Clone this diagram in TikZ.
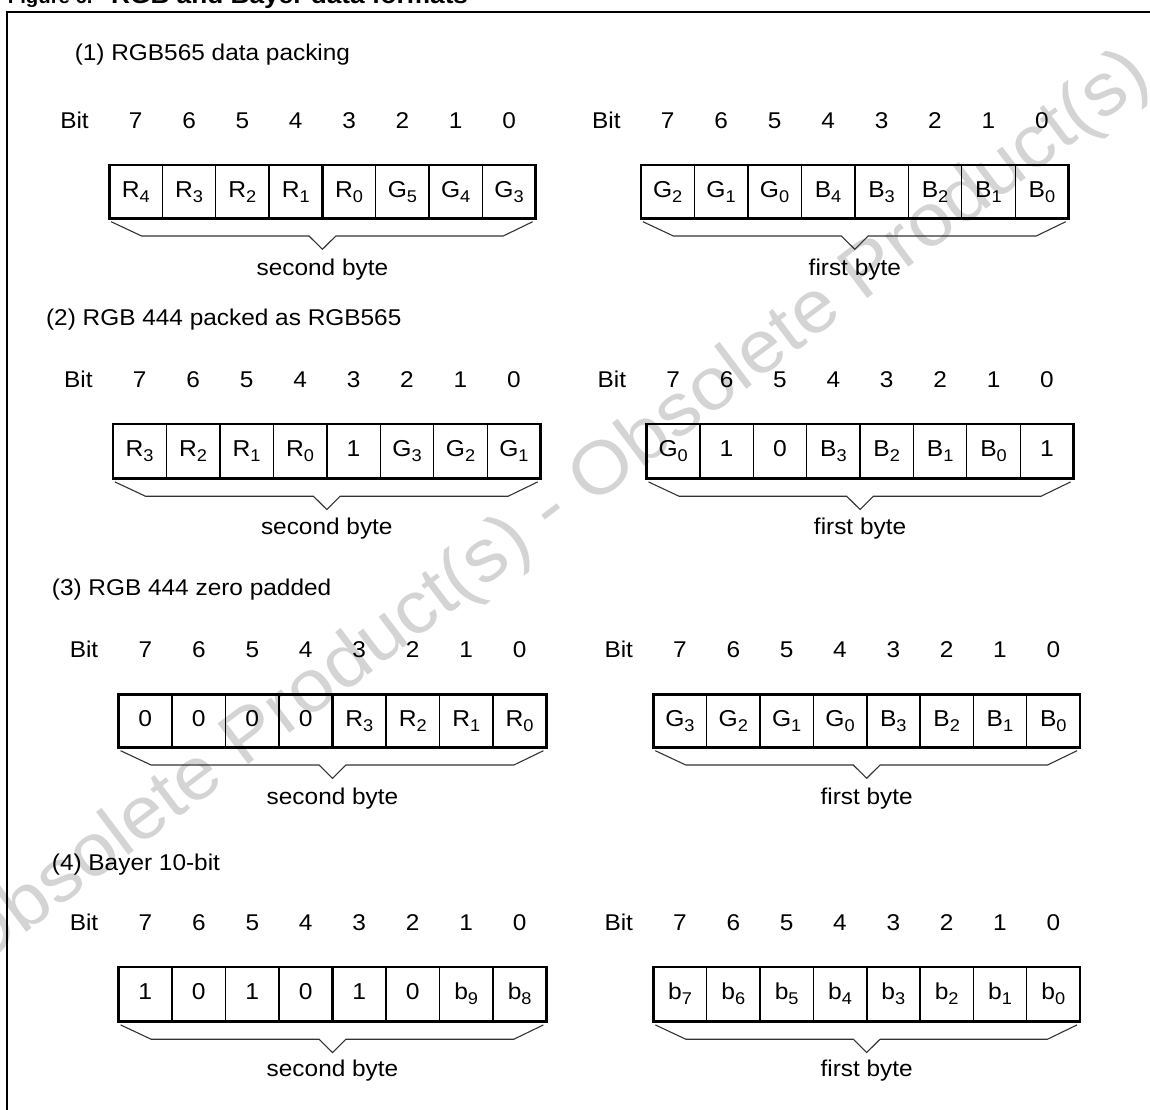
\documentclass[tikz,border=0pt]{standalone}
\usepackage{fontspec}
\setmainfont{Liberation Sans}[FakeStretch=1.07]
\newcommand\lo[1]{\raisebox{-5pt}{\fontsize{17}{18}\selectfont #1}}
\tikzset{
  lbl/.style={font=\fontsize{22.8}{26}\selectfont, inner sep=0pt},
  cell/.style={font=\fontsize{23}{26}\selectfont, inner sep=0pt},
  ttl/.style={font=\bfseries\fontsize{24.5}{28}\selectfont, inner sep=0pt},
  ttlnum/.style={font=\bfseries\fontsize{19}{22}\selectfont, inner sep=0pt},
  wm/.style={font=\fontsize{74}{76}\selectfont, text=black!17, inner sep=0pt},
  outer/.style={line width=2.8pt},
  divider/.style={line width=1.3pt},
  middiv/.style={line width=2.2pt},
  bracepath/.style={line width=1.1pt, draw=black!80},
  frame/.style={line width=2pt}
}
\newcommand\bytebox[9]{%
  \pgfmathsetmacro\bxw{(#3-#2)/8}%
  \pgfmathsetmacro\bxm{(#2+#3)/2}%
  \pgfmathsetmacro\bxc{(#4+#5)/2+5.5}%
  \node[lbl, anchor=base west] (#1-bit) at (#2-49,#6) {Bit};
  \foreach \v [count=\i from 0] in {7,...,0}
    {\node[lbl, anchor=base] (#1-d\v) at ({#2+(\i+0.5)*\bxw},#6) {\v};}
  \foreach \celltxt [count=\i from 0] in {#9}
    {\node[cell, anchor=base] (#1-c\i) at ({#2+(\i+0.5)*\bxw},\bxc) {\celltxt};}
  \foreach \i in {1,2,3,5,6,7}
    {\draw[divider] ({#2+\i*\bxw},#4) -- ({#2+\i*\bxw},#5);}
  \draw[middiv] (\bxm,#4) -- (\bxm,#5);
  \draw[outer] (#2,#4) rectangle (#3,#5);
  \draw[bracepath] (#2+2,#5+3.4) -- (#2+32.5,#5+17.7) -- (\bxm-13.4,#5+17.7)
     -- (\bxm,#5+31) -- (\bxm+13.4,#5+17.7) -- (#3-32.5,#5+17.7) -- (#3-3,#5+3.4);
  \node[lbl, anchor=base] (#1-lab) at (\bxm,#7) {#8};
}
\begin{document}
\begin{tikzpicture}[x=1pt,y=-1pt]
\useasboundingbox (0,0) rectangle (1150,1109);
% watermark
\node[wm, rotate=37] (wm) at (552,512) {Obsolete Product(s) - Obsolete Product(s)};
% figure title (cut at top)
\node[ttlnum, anchor=base west] (fignum) at (7.7,3.5) {Figure 6.};
\node[ttl, anchor=base west] (figtitle) at (111,3.5) {RGB and Bayer data formats};
% frame
\draw[frame] (6.9,1115) -- (6.9,11.5) -- (1156,11.5);
% section titles
\node[lbl, anchor=base west] (t1) at (74.6,60) {(1) RGB565 data packing};
\node[lbl, anchor=base west] (t2) at (45.9,325) {(2) RGB 444 packed as RGB565};
\node[lbl, anchor=base west] (t3) at (51.7,595) {(3) RGB 444 zero padded};
\node[lbl, anchor=base west] (t4) at (51.7,870) {(4) Bayer 10-bit};
% section 1
\bytebox{a1}{109.1}{535.7}{165}{218.3}{128.3}{275}{second byte}
  {R\lo{4},R\lo{3},R\lo{2},R\lo{1},R\lo{0},G\lo{5},G\lo{4},G\lo{3}}
\bytebox{b1}{640.9}{1068.7}{165}{218.3}{128.3}{275}{first byte}
  {G\lo{2},G\lo{1},G\lo{0},B\lo{4},B\lo{3},B\lo{2},B\lo{1},B\lo{0}}
% section 2
\bytebox{a2}{112.9}{540.7}{424}{478.5}{387.7}{534}{second byte}
  {R\lo{3},R\lo{2},R\lo{1},R\lo{0},1,G\lo{3},G\lo{2},G\lo{1}}
\bytebox{b2}{646.5}{1073.6}{424}{478.5}{387.7}{534}{first byte}
  {G\lo{0},1,0,B\lo{3},B\lo{2},B\lo{1},B\lo{0},1}
% section 3
\bytebox{a3}{118.6}{546.4}{694.5}{747.3}{657.7}{804}{second byte}
  {0,0,0,0,R\lo{3},R\lo{2},R\lo{1},R\lo{0}}
\bytebox{b3}{653.3}{1080}{694.5}{747.3}{657.7}{804}{first byte}
  {G\lo{3},G\lo{2},G\lo{1},G\lo{0},B\lo{3},B\lo{2},B\lo{1},B\lo{0}}
% section 4
\bytebox{a4}{118.6}{546.4}{967}{1021.5}{930.7}{1076.5}{second byte}
  {1,0,1,0,1,0,b\lo{9},b\lo{8}}
\bytebox{b4}{653.3}{1080}{967}{1021.5}{930.7}{1076.5}{first byte}
  {b\lo{7},b\lo{6},b\lo{5},b\lo{4},b\lo{3},b\lo{2},b\lo{1},b\lo{0}}
\end{tikzpicture}
\end{document}
